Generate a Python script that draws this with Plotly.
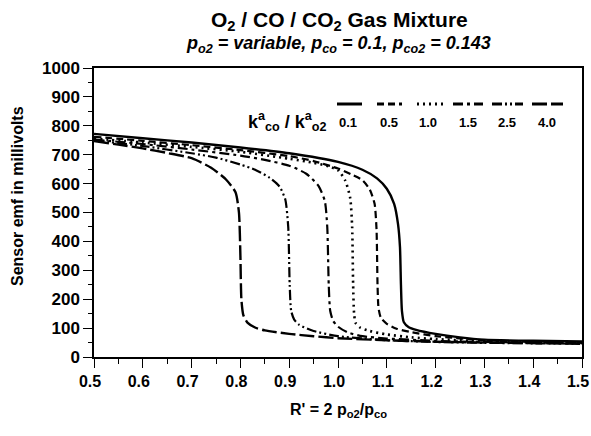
import plotly.graph_objects as go

# ---- data ----
ratios = ["0.1", "0.5", "1.0", "1.5", "2.5", "4.0"]

r_01 = [0.5, 0.6, 0.7, 0.8, 0.9, 1.0, 1.05, 1.08, 1.1, 1.115, 1.123, 1.127, 1.129, 1.131, 1.135, 1.145, 1.16, 1.2, 1.25, 1.3, 1.4, 1.5]
e_01 = [772, 757, 742, 725, 705, 675, 648, 618, 582, 530, 460, 380, 250, 160, 120, 103, 94, 80, 68, 60, 56, 54]

r_05 = [0.5, 0.6, 0.7, 0.8, 0.9, 0.95, 1.0, 1.03, 1.05, 1.065, 1.075, 1.079, 1.081, 1.083, 1.088, 1.1, 1.12, 1.15, 1.2, 1.3, 1.4, 1.5]
e_05 = [762, 748, 733, 716, 695, 678, 652, 630, 612, 580, 530, 440, 250, 170, 135, 115, 98, 86, 72, 58, 52, 50]

r_10 = [0.5, 0.6, 0.7, 0.8, 0.9, 0.95, 0.98, 1.0, 1.015, 1.025, 1.029, 1.031, 1.033, 1.036, 1.045, 1.065, 1.1, 1.15, 1.2, 1.3, 1.5]
e_10 = [756, 742, 727, 710, 686, 672, 660, 646, 610, 550, 450, 250, 150, 118, 102, 90, 78, 68, 62, 55, 50]

r_15 = [0.5, 0.6, 0.7, 0.8, 0.85, 0.9, 0.935, 0.96, 0.973, 0.978, 0.981, 0.984, 0.99, 1.0, 1.02, 1.05, 1.1, 1.2, 1.3, 1.5]
e_15 = [752, 737, 718, 697, 682, 662, 634, 592, 540, 450, 250, 160, 125, 105, 85, 72, 64, 56, 52, 48]

r_25 = [0.5, 0.6, 0.7, 0.75, 0.8, 0.83, 0.86, 0.88, 0.892, 0.898, 0.901, 0.904, 0.91, 0.92, 0.95, 1.0, 1.05, 1.1, 1.2, 1.3, 1.5]
e_25 = [750, 730, 705, 690, 666, 648, 620, 590, 545, 450, 250, 160, 130, 112, 90, 72, 64, 58, 52, 49, 46]

r_40 = [0.5, 0.55, 0.6, 0.65, 0.7, 0.74, 0.77, 0.79, 0.797, 0.8, 0.802, 0.806, 0.815, 0.83, 0.85, 0.9, 0.95, 1.0, 1.1, 1.2, 1.3, 1.5]
e_40 = [747, 735, 722, 706, 688, 655, 615, 570, 500, 350, 200, 145, 118, 102, 92, 80, 72, 65, 58, 53, 50, 46]

x_ticks = [0.5, 0.6, 0.7, 0.8, 0.9, 1.0, 1.1, 1.2, 1.3, 1.4, 1.5]
x_tick_labels = ["0.5", "0.6", "0.7", "0.8", "0.9", "1.0", "1.1", "1.2", "1.3", "1.4", "1.5"]
y_ticks = [0, 100, 200, 300, 400, 500, 600, 700, 800, 900, 1000]

series_r = [r_01, r_05, r_10, r_15, r_25, r_40]
series_e = [e_01, e_05, e_10, e_15, e_25, e_40]
dashes = ["solid", "7px,4px", "2px,4px", "10px,4px,3px,4px", "10px,3px,2px,3px,2px,3px", "15px,4px"]
widths = [2.4, 2.2, 2.6, 2.2, 2.2, 2.4]

fig = go.Figure()
for name, r, e, d, w in zip(ratios, series_r, series_e, dashes, widths):
    fig.add_trace(go.Scatter(x=r, y=e, mode="lines", name=name,
                             line=dict(color="black", width=w, dash=d, shape="spline", smoothing=0.6),
                             showlegend=False))

# custom legend (line samples + labels) in paper coordinates
leg_x0 = [337, 377, 417, 453, 492, 532]
leg_x1 = [362, 402, 443, 483, 523, 563]
leg_lab = [348, 389, 428, 468, 507, 547]
L, R, T, B = 94, 582, 68, 357
def px(x):
    return (x - L) / (R - L)
def py(y):
    return (B - y) / (B - T)

FONT = "Liberation Sans, Arial"
shapes = []
annotations = []
for x0, x1, xl, lab, d in zip(leg_x0, leg_x1, leg_lab, ratios, dashes):
    shapes.append(dict(type="line", xref="paper", yref="paper", x0=px(x0), x1=px(x1),
                       y0=py(104), y1=py(104), line=dict(color="black", width=3, dash=d)))
    annotations.append(dict(text=lab, xref="paper", yref="paper", x=px(xl), y=py(122),
                            showarrow=False, xanchor="center", yanchor="middle",
                            font=dict(family=FONT, size=13, color="black", weight="bold")))
annotations.append(dict(text="k<sup>a</sup><sub>co</sub> / k<sup>a</sup><sub>o2</sub>", xref="paper", yref="paper",
                        x=px(287), y=py(121), showarrow=False, xanchor="center", yanchor="middle",
                        font=dict(family=FONT, size=18, color="black", weight="bold")))

# titles
annotations.append(dict(text="O<sub>2</sub> / CO / CO<sub>2</sub> Gas Mixture", xref="paper", yref="paper",
                        x=px(339), y=py(21), showarrow=False, xanchor="center", yanchor="middle",
                        font=dict(family=FONT, size=21, color="black", weight="bold")))
annotations.append(dict(text="<i>p<sub>o2</sub> = variable, p<sub>co</sub> = 0.1, p<sub>co2</sub> = 0.143</i>",
                        xref="paper", yref="paper",
                        x=px(338), y=py(44), showarrow=False, xanchor="center", yanchor="middle",
                        font=dict(family=FONT, size=18, color="black", weight="bold")))
annotations.append(dict(text="R' = 2 p<sub>o2</sub>/p<sub>co</sub>", xref="paper", yref="paper",
                        x=px(338), y=py(410), showarrow=False, xanchor="center", yanchor="middle",
                        font=dict(family=FONT, size=16, color="black", weight="bold")))
annotations.append(dict(text="Sensor emf in millivolts", xref="paper", yref="paper",
                        x=px(17), y=py(196), showarrow=False, xanchor="center", yanchor="middle", textangle=-90,
                        font=dict(family=FONT, size=16, color="black", weight="bold")))

tickfont_y = dict(family=FONT, size=17, color="black", weight="bold")
tickfont_x = dict(family=FONT, size=16, color="black", weight="bold")
fig.update_layout(
    width=591, height=436,
    margin=dict(l=L, r=591 - R, t=T, b=436 - B, autoexpand=False),
    paper_bgcolor="white", plot_bgcolor="white",
    shapes=shapes, annotations=annotations,
    xaxis=dict(range=[0.5, 1.5], tickvals=x_ticks, ticktext=x_tick_labels, ticks="outside", ticklen=9,
               tickwidth=1.2, tickcolor="black", showline=True, linecolor="black", linewidth=1.5, mirror=True,
               showgrid=False, zeroline=False, tickfont=tickfont_x, automargin=False, ticklabeloverflow="allow",
               ticklabelshift=-4,
               minor=dict(dtick=0.05, ticks="outside", ticklen=5, tickcolor="black", tickwidth=1.2, showgrid=False)),
    yaxis=dict(range=[0, 1000], tickvals=y_ticks, ticks="outside", ticklen=9, tickwidth=1.2, tickcolor="black",
               showline=True, linecolor="black", linewidth=1.5, mirror=True, showgrid=False, zeroline=False,
               tickfont=tickfont_y, automargin=False, ticklabeloverflow="allow",
               minor=dict(dtick=50, ticks="outside", ticklen=4, tickcolor="black", tickwidth=1.2, showgrid=False)),
)

fig.write_html("out.html", config={"displayModeBar": False},
               post_script="document.body.style.margin='0';document.body.style.overflow='hidden';")
